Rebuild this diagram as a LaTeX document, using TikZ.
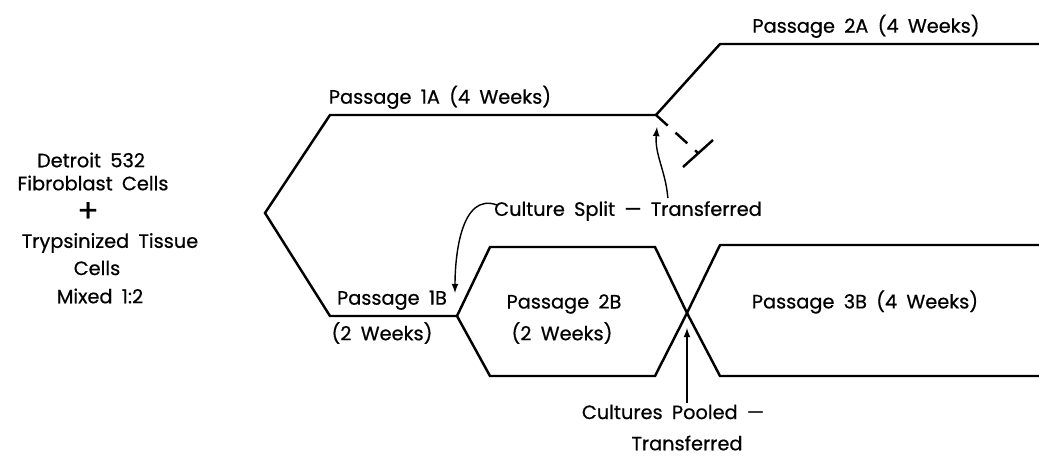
\documentclass[tikz,border=0pt]{standalone}
\usepackage{fontspec}
\setmainfont{Poppins}[WordSpace=1.8, FakeBold=0.6]
\usetikzlibrary{positioning, calc}

\begin{document}
\begin{tikzpicture}[x=0.02cm, y=-0.02cm, >=latex]

    % Define styles
    \tikzstyle{passtext} = [font=\fontsize{11}{13}\selectfont, inner sep=1pt]
    \tikzstyle{culture} = [line width=1.4pt, line join=miter]
    \tikzstyle{pointer} = [->, line width=0.8pt]

    \useasboundingbox (0,0) rectangle (1039,457);

    % Points of the passages
    \coordinate (mix) at (265,213);
    \coordinate (top1a) at (330,115);
    \coordinate (split) at (656,115);
    \coordinate (top2a) at (720,44);
    \coordinate (end2a) at (1039,44);
    \coordinate (bot1b) at (330,316);
    \coordinate (split1b) at (457,316);
    \coordinate (top2b) at (490,247);
    \coordinate (topr2b) at (655,247);
    \coordinate (pool) at (687,313);
    \coordinate (bot2b) at (490,376);
    \coordinate (botr2b) at (655,376);
    \coordinate (top3b) at (720,245);
    \coordinate (end3b) at (1039,245);
    \coordinate (bot3b) at (720,376);
    \coordinate (endb3b) at (1039,376);
    \coordinate (stop) at (698,153);

    % Passages
    \draw [culture] (end2a) -- (top2a) -- (split) -- (top1a) -- (mix) -- (bot1b) -- (split1b);
    \draw [culture] (split1b) -- (top2b) -- (topr2b) -- (pool) -- (bot3b) -- (endb3b);
    \draw [culture] (split1b) -- (bot2b) -- (botr2b) -- (pool) -- (top3b) -- (end3b);
    \draw [culture, dashed, dash pattern=on 9pt off 6pt] (split) -- (stop);
    \draw [culture] ($(stop)+(-15,14)$) -- ($(stop)+(15,-13)$);

    % Start
    \node (detroit) [passtext] at (91,160) {Detroit 532};
    \node (fibro) [passtext] at (93,183) {Fibroblast Cells};
    \node (plus) [font=\fontsize{18}{18}\selectfont, inner sep=0pt] at (88,212) {+};
    \node (tissue) [passtext] at (110,243) {Trypsinized Tissue};
    \node (cells) [passtext] at (97,268) {Cells};
    \node (ratio) [passtext] at (100,296) {Mixed 1:2};

    % Passage labels
    \node (p1a) [passtext, anchor=south] at (440,111) {Passage 1A (4 Weeks)};
    \node (p2a) [passtext, anchor=south] at (866,40) {Passage 2A (4 Weeks)};
    \node (p1b) [passtext, anchor=south] at (392,312) {Passage 1B};
    \node (w1b) [passtext] at (382,333) {(2 Weeks)};
    \node (p2b) [passtext] at (564,304) {Passage 2B};
    \node (w2b) [passtext] at (562,333) {(2 Weeks)};
    \node (p3b) [passtext] at (865,302) {Passage 3B (4 Weeks)};

    % Notes
    \node (splitnote) [passtext] at (628,211) {Culture Split — Transferred};
    \node (poolnote) [passtext] at (673,412) {Cultures Pooled —};
    \node (poolnote2) [passtext] at (687,443) {Transferred};

    % Arrows
    \coordinate (tip1b) at (455,293);
    \coordinate (tipsplit) at (657,127);
    \coordinate (tippool) at (687,328);
    \draw [pointer] ($(splitnote.west)+(5,-6)$) to[out=160, in=90] (tip1b);
    \draw [pointer] ($(splitnote.north east)+(-96,-1)$) to[out=95, in=-95] (tipsplit);
    \draw [pointer] (poolnote.north -| tippool) -- (tippool);

\end{tikzpicture}
\end{document}
